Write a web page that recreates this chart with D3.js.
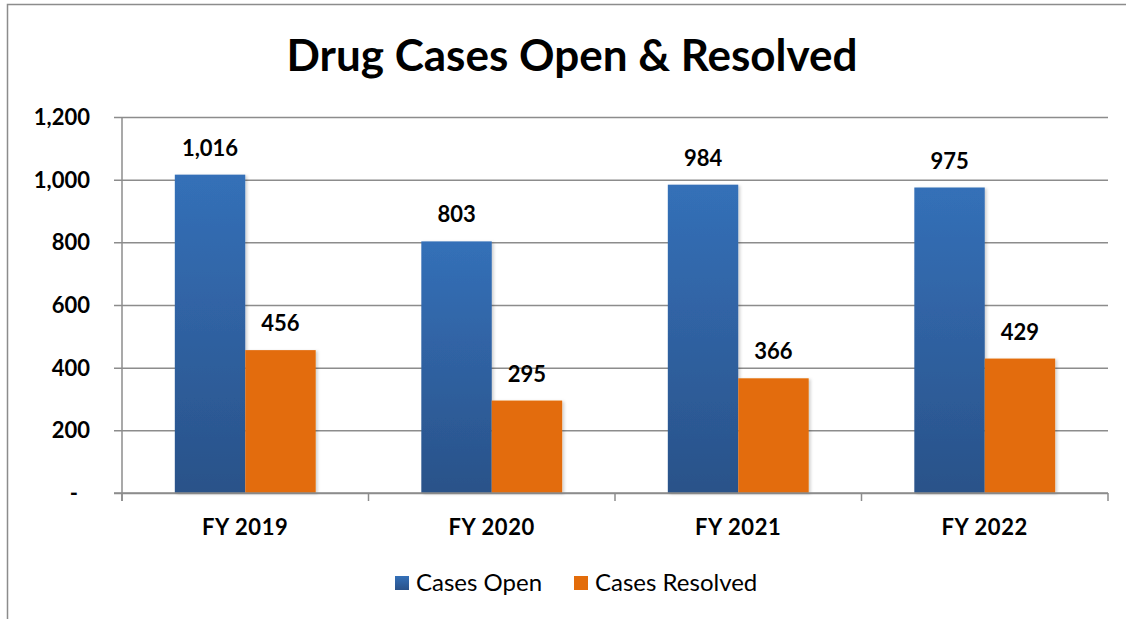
<!DOCTYPE html>
<html>
<head>
<meta charset="utf-8">
<script src="https://cdn.jsdelivr.net/npm/d3@7"></script>
<style>
  body { margin: 0; background: #fff; }
  svg text { font-family: Lato, "Open Sans", sans-serif; }
</style>
</head>
<body>
<div id="chart"></div>
<script>
const categories = ["FY 2019", "FY 2020", "FY 2021", "FY 2022"];
const seriesNames = ["Cases Open", "Cases Resolved"];
const casesOpen = [1016, 803, 984, 975];
const casesResolved = [456, 295, 366, 429];
const yTicks = [0, 200, 400, 600, 800, 1000, 1200];

const W = 1126, H = 619;
const PLOT = { left: 122, right: 1108, top: 117, bottom: 493 };

const svg = d3.select("#chart").append("svg")
  .attr("width", W)
  .attr("height", H);

// gradient for the blue bars
const defs = svg.append("defs");
const grad = defs.append("linearGradient")
  .attr("id", "blueGrad")
  .attr("x1", 0).attr("y1", 0).attr("x2", 0).attr("y2", 1);
grad.append("stop").attr("offset", "0%").attr("stop-color", "#3470b8");
grad.append("stop").attr("offset", "100%").attr("stop-color", "#2a5289");

const shadow = defs.append("filter").attr("id", "shadow")
  .attr("x", "-10%").attr("y", "-10%").attr("width", "130%").attr("height", "120%");
shadow.append("feDropShadow")
  .attr("dx", 2).attr("dy", 1).attr("stdDeviation", 1.5)
  .attr("flood-color", "#000").attr("flood-opacity", 0.18);

// CHART BORDER
svg.append("rect")
  .attr("x", 7.5).attr("y", 4.5)
  .attr("width", W + 10).attr("height", H + 10)
  .style("fill", "none")
  .style("stroke", "#8c8c8c")
  .style("stroke-width", 1.5);

// TITLE
svg.append("text")
  .attr("x", 572).attr("y", 71)
  .attr("text-anchor", "middle")
  .style("font-size", "44px")
  .style("font-weight", "bold")
  .style("fill", "#000")
  .text("Drug Cases Open & Resolved");

const x0 = d3.scaleBand()
  .domain(categories)
  .range([PLOT.left, PLOT.right])
  .paddingInner(0)
  .paddingOuter(0);

const y = d3.scaleLinear()
  .domain([0, 1200])
  .range([PLOT.bottom, PLOT.top]);

// Excel style: gap width 150% -> each bar = band / 3.5
const barW = x0.bandwidth() / 3.5;

// GRIDLINES + Y AXIS
const yAxis = d3.axisLeft(y)
  .tickValues(yTicks)
  .tickSize(-(PLOT.right - PLOT.left))
  .tickPadding(0)
  .tickFormat(() => "");
const yg = svg.append("g")
  .attr("transform", `translate(${PLOT.left},0)`)
  .call(yAxis);
yg.select(".domain").remove();
yg.selectAll(".tick line")
  .attr("x1", -8)
  .style("stroke", "#8c8c8c")
  .style("stroke-width", 1.5);

svg.append("line")
  .attr("x1", PLOT.left).attr("x2", PLOT.left)
  .attr("y1", PLOT.top).attr("y2", PLOT.bottom + 8)
  .style("stroke", "#8c8c8c")
  .style("stroke-width", 1.5);

// Y TICK LABELS
svg.append("g").selectAll("text")
  .data(yTicks)
  .join("text")
  .attr("x", d => d === 0 ? 78 : 90)
  .attr("y", d => y(d) + 8)
  .attr("text-anchor", "end")
  .style("font-size", "22px")
  .style("font-weight", "bold")
  .style("fill", "#000")
  .text(d => d === 0 ? "-" : d3.format(",")(d));

// X AXIS TICK MARKS
const xBounds = categories.map(c => x0(c)).concat([PLOT.right]);
svg.append("g").selectAll("line")
  .data(xBounds)
  .join("line")
  .attr("x1", d => d).attr("x2", d => d)
  .attr("y1", PLOT.bottom).attr("y2", PLOT.bottom + 8)
  .style("stroke", "#8c8c8c")
  .style("stroke-width", 1.5);

// BARS
const data = categories.map((c, i) => ({ cat: c, open: casesOpen[i], resolved: casesResolved[i] }));
const bars = svg.append("g");
data.forEach(d => {
  const cx = x0(d.cat) + x0.bandwidth() / 2;
  bars.append("rect")
    .attr("x", cx - barW)
    .attr("y", y(d.open))
    .attr("width", barW)
    .attr("height", y(0) - y(d.open))
    .attr("filter", "url(#shadow)")
    .style("fill", "url(#blueGrad)");
  bars.append("rect")
    .attr("x", cx)
    .attr("y", y(d.resolved))
    .attr("width", barW)
    .attr("height", y(0) - y(d.resolved))
    .attr("filter", "url(#shadow)")
    .style("fill", "#e36c0a");

  // DATA LABELS
  bars.append("text")
    .attr("x", cx - barW / 2)
    .attr("y", y(d.open) - 19)
    .attr("text-anchor", "middle")
    .style("font-size", "22px")
    .style("font-weight", "bold")
    .text(d3.format(",")(d.open));
  bars.append("text")
    .attr("x", cx + barW / 2)
    .attr("y", y(d.resolved) - 19)
    .attr("text-anchor", "middle")
    .style("font-size", "22px")
    .style("font-weight", "bold")
    .text(d3.format(",")(d.resolved));
});

// X AXIS BASELINE
svg.append("line")
  .attr("x1", PLOT.left - 8).attr("x2", PLOT.right)
  .attr("y1", PLOT.bottom).attr("y2", PLOT.bottom)
  .style("stroke", "#8c8c8c")
  .style("stroke-width", 1.5);

// X LABELS
svg.append("g").selectAll("text")
  .data(categories)
  .join("text")
  .attr("x", d => x0(d) + x0.bandwidth() / 2)
  .attr("y", 535)
  .attr("text-anchor", "middle")
  .style("font-size", "22px")
  .style("font-weight", "bold")
  .style("letter-spacing", "0.6px")
  .text(d => d);

// LEGEND
const legendColors = ["url(#blueGrad)", "#e36c0a"];
const legendX = [395, 574];
const legend = svg.append("g");
seriesNames.forEach((name, i) => {
  legend.append("rect")
    .attr("x", legendX[i]).attr("y", 576)
    .attr("width", 14).attr("height", 14)
    .style("fill", legendColors[i]);
  legend.append("text")
    .attr("x", legendX[i] + 21).attr("y", 591)
    .style("font-size", "24px")
    .style("fill", "#000")
    .text(name);
});
</script>
</body>
</html>
